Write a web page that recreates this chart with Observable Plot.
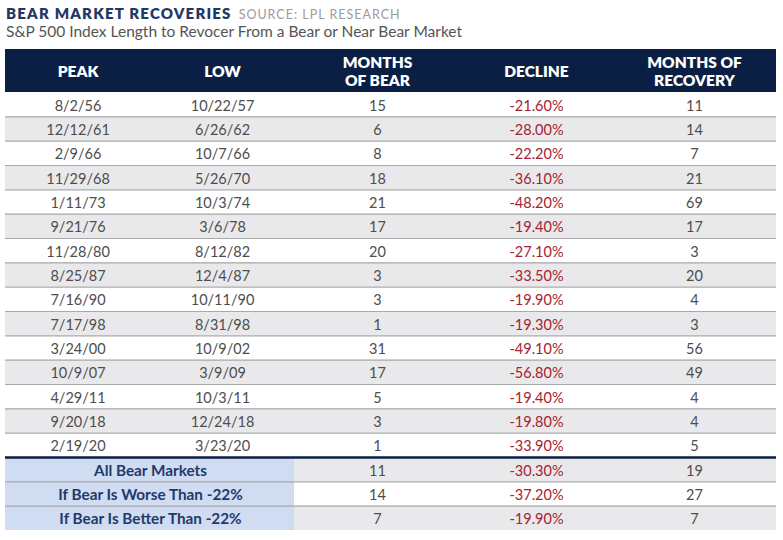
<!DOCTYPE html>
<html><head><meta charset="utf-8">
<script src="https://cdn.jsdelivr.net/npm/d3@7"></script>
<script src="https://cdn.jsdelivr.net/npm/@observablehq/plot@0.6"></script>
<style>
body{margin:0;background:#fff;font-family:Lato,"Open Sans",sans-serif;}
#head{height:46px;position:relative;}
.t{position:absolute;left:6px;top:3px;white-space:nowrap;line-height:20px}
.t b{color:#1f3864;font-size:15px;font-weight:800;letter-spacing:1.2px}
.t span{color:#9b9b9b;font-size:12.5px;letter-spacing:1px;margin-left:7px}
.s{position:absolute;left:6px;top:22px;font-size:15.5px;color:#555;white-space:nowrap}
g[aria-label="header"] text{letter-spacing:1.3px}
</style></head><body>
<div id="head"><div class="t"><b>BEAR MARKET RECOVERIES</b><span>SOURCE: LPL RESEARCH</span></div><div class="s">S&amp;P 500 Index Length to Revocer From a Bear or Near Bear Market</div></div>
<div id="chart"></div>
<script>
const headers = ["PEAK", "LOW", "MONTHS\nOF BEAR", "DECLINE", "MONTHS OF\nRECOVERY"];
const peaks = ["8/2/56","12/12/61","2/9/66","11/29/68","1/11/73","9/21/76","11/28/80","8/25/87","7/16/90","7/17/98","3/24/00","10/9/07","4/29/11","9/20/18","2/19/20"];
const lows = ["10/22/57","6/26/62","10/7/66","5/26/70","10/3/74","3/6/78","8/12/82","12/4/87","10/11/90","8/31/98","10/9/02","3/9/09","10/3/11","12/24/18","3/23/20"];
const monthsOfBear = [15, 6, 8, 18, 21, 17, 20, 3, 3, 1, 31, 17, 5, 3, 1];
const declines = [-21.6, -28.0, -22.2, -36.1, -48.2, -19.4, -27.1, -33.5, -19.9, -19.3, -49.1, -56.8, -19.4, -19.8, -33.9];
const monthsOfRecovery = [11, 14, 7, 21, 69, 17, 3, 20, 4, 3, 56, 49, 4, 4, 5];
const summaryLabels = ["All Bear Markets", "If Bear Is Worse Than -22%", "If Bear Is Better Than -22%"];
const summaryBear = [11, 14, 7];
const summaryDecline = [-30.3, -37.2, -19.9];
const summaryRecovery = [19, 27, 7];

const navy = "#0b1f45", gray = "#e9e9eb", blue = "#cfdcf1", txt = "#4d4d4d", red = "#a52230", line = "#a9a9a9", labelNavy = "#1f3a6a";
const nData = peaks.length, nSum = summaryLabels.length, nRows = nData + nSum, nCols = headers.length;
const pct = v => v.toFixed(2) + "%";

const plainCells = [], redCells = [], labelCells = [];
peaks.forEach((p, i) => {
  plainCells.push({row: i, col: 0, text: p});
  plainCells.push({row: i, col: 1, text: lows[i]});
  plainCells.push({row: i, col: 2, text: String(monthsOfBear[i])});
  redCells.push({row: i, col: 3, text: pct(declines[i])});
  plainCells.push({row: i, col: 4, text: String(monthsOfRecovery[i])});
});
summaryLabels.forEach((s, j) => {
  const r = nData + j;
  labelCells.push({row: r, text: s});
  plainCells.push({row: r, col: 2, text: String(summaryBear[j])});
  redCells.push({row: r, col: 3, text: pct(summaryDecline[j])});
  plainCells.push({row: r, col: 4, text: String(summaryRecovery[j])});
});
const rows = d3.range(nRows);
const stripes = rows.filter(r => r % 2 === 1);
const seps = rows.filter(r => r > 0 && r !== nData);

const font = "Lato, 'Open Sans', sans-serif";
const chart = Plot.plot({
  width: 783, height: 494, margin: 0,
  style: {background: "transparent", fontFamily: font},
  x: {type: "linear", domain: [0, 1, 2, 3, 4, 5], range: [5, 150, 294, 460, 612, 776], axis: null},
  y: {type: "linear", domain: [-1, 0, nRows], range: [3, 46, 484], axis: null},
  marks: [
    Plot.rect([0], {x1: 0, x2: nCols, y1: -1, y2: 0, fill: navy}),
    Plot.rect(stripes, {x1: 0, x2: nCols, y1: d => d, y2: d => d + 1, fill: gray}),
    Plot.rect([nData], {x1: 0, x2: 2, y1: d => d, y2: nRows, fill: blue}),
    Plot.ruleY(seps, {x1: 0, x2: nCols, stroke: line, strokeWidth: 1.2}),
    Plot.ruleY([nData], {x1: 0, x2: nCols, stroke: navy, strokeWidth: 2.5}),
    Plot.text(headers, {x: (d, i) => i + 0.5, y: -0.5, text: d => d, fill: "white", fontWeight: 800, fontSize: 15.5, lineHeight: 1.17, ariaLabel: "header"}),
    Plot.text(plainCells, {x: d => d.col + 0.5, y: d => d.row + 0.55, text: "text", fill: txt, fontSize: 14.5}),
    Plot.text(redCells, {x: d => d.col + 0.5, y: d => d.row + 0.55, text: "text", fill: red, fontSize: 14.5}),
    Plot.text(labelCells, {x: 1, y: d => d.row + 0.55, text: "text", fill: labelNavy, fontWeight: 700, fontSize: 15.3})
  ]
});
document.getElementById("chart").appendChild(chart);
</script>
</body></html>
